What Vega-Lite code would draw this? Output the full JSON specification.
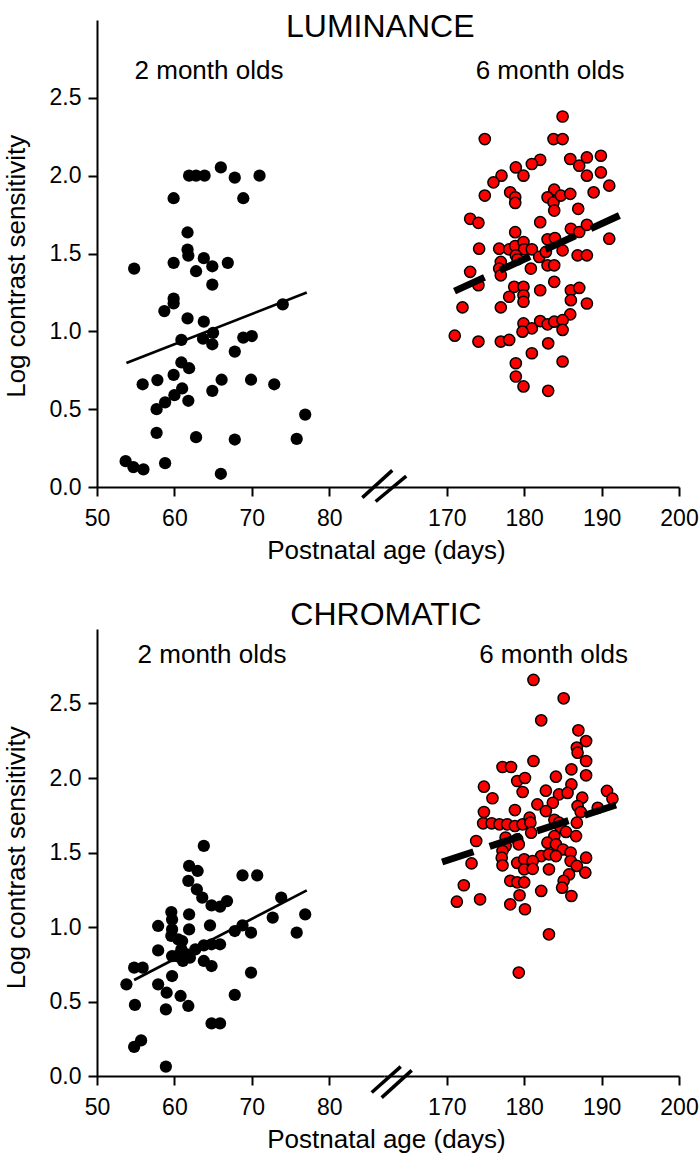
{
  "$schema": "https://vega.github.io/schema/vega-lite/v6.json",
  "background": "white",
  "padding": {"left": 3, "top": 11, "right": 5, "bottom": 5},
  "config": {
    "view": {"stroke": null},
    "font": "Liberation Sans",
    "axis": {"grid": false, "domainColor": "black", "tickColor": "black", "labelColor": "black", "titleColor": "black", "domainWidth": 2, "tickWidth": 2, "tickSize": 9, "labelFontSize": 23, "titleFontSize": 26, "titleFontWeight": "normal", "labelFont": "Liberation Sans", "titleFont": "Liberation Sans", "labelPadding": 7},
    "axisX": {"labelPadding": 11}
  },
  "datasets": {
    "lum2": [
      {"age":66.0,"lcs":2.053},{"age":61.9,"lcs":2.0},{"age":62.8,"lcs":2.0},{"age":63.9,"lcs":2.0},{"age":67.8,"lcs":1.987},{"age":71.0,"lcs":2.0},
      {"age":59.9,"lcs":1.855},{"age":68.9,"lcs":1.855},{"age":61.7,"lcs":1.635},{"age":61.7,"lcs":1.525},{"age":61.8,"lcs":1.486},{"age":59.9,"lcs":1.44},
      {"age":63.8,"lcs":1.47},{"age":62.8,"lcs":1.386},{"age":64.9,"lcs":1.418},{"age":66.9,"lcs":1.44},{"age":64.9,"lcs":1.30},{"age":54.8,"lcs":1.403},
      {"age":59.9,"lcs":1.21},{"age":59.9,"lcs":1.18},{"age":58.7,"lcs":1.13},{"age":61.7,"lcs":1.083},{"age":63.8,"lcs":1.062},{"age":74.0,"lcs":1.173},
      {"age":60.9,"lcs":0.945},{"age":65.0,"lcs":0.99},{"age":63.7,"lcs":0.953},{"age":64.9,"lcs":0.917},{"age":67.8,"lcs":0.87},{"age":68.9,"lcs":0.96},
      {"age":70.0,"lcs":0.97},{"age":60.9,"lcs":0.80},{"age":61.9,"lcs":0.763},{"age":59.9,"lcs":0.72},{"age":55.9,"lcs":0.66},{"age":57.8,"lcs":0.687},
      {"age":66.1,"lcs":0.689},{"age":64.9,"lcs":0.618},{"age":69.9,"lcs":0.689},{"age":72.9,"lcs":0.66},{"age":61.0,"lcs":0.633},{"age":60.0,"lcs":0.59},
      {"age":58.8,"lcs":0.544},{"age":57.7,"lcs":0.50},{"age":61.8,"lcs":0.554},{"age":76.9,"lcs":0.465},{"age":57.7,"lcs":0.348},{"age":62.8,"lcs":0.32},
      {"age":67.8,"lcs":0.305},{"age":75.8,"lcs":0.309},{"age":53.7,"lcs":0.166},{"age":54.7,"lcs":0.128},{"age":56.0,"lcs":0.113},{"age":58.8,"lcs":0.153},
      {"age":66.0,"lcs":0.085}
    ],
    "lum6": [
      {"age":184.96,"lcs":2.38},{"age":174.91,"lcs":2.235},{"age":183.79,"lcs":2.235},{"age":184.96,"lcs":2.235},{"age":182.07,"lcs":2.102},{"age":180.99,"lcs":2.075},
      {"age":178.92,"lcs":2.053},{"age":179.91,"lcs":2.0},{"age":177.07,"lcs":2.0},{"age":176.03,"lcs":1.957},{"age":174.91,"lcs":1.872},{"age":178.19,"lcs":1.893},
      {"age":178.84,"lcs":1.861},{"age":178.84,"lcs":1.825},{"age":185.95,"lcs":2.107},{"age":187.11,"lcs":2.064},{"age":188.1,"lcs":2.117},{"age":189.91,"lcs":2.128},
      {"age":188.1,"lcs":2.0},{"age":189.91,"lcs":2.021},{"age":190.99,"lcs":1.936},{"age":188.97,"lcs":1.893},{"age":183.88,"lcs":1.91},{"age":183.02,"lcs":1.861},
      {"age":183.79,"lcs":1.829},{"age":184.74,"lcs":1.872},{"age":185.95,"lcs":1.883},{"age":183.88,"lcs":1.776},{"age":186.98,"lcs":1.787},{"age":173.02,"lcs":1.723},
      {"age":174.09,"lcs":1.697},{"age":182.07,"lcs":1.701},{"age":190.99,"lcs":1.595},{"age":176.77,"lcs":1.531},{"age":178.06,"lcs":1.526},{"age":178.84,"lcs":1.548},
      {"age":179.91,"lcs":1.574},{"age":180.0,"lcs":1.527},{"age":180.99,"lcs":1.527},{"age":178.92,"lcs":1.488},{"age":179.14,"lcs":1.463},{"age":176.98,"lcs":1.446},
      {"age":176.77,"lcs":1.403},{"age":176.98,"lcs":1.36},{"age":181.94,"lcs":1.478},{"age":182.8,"lcs":1.51},{"age":183.02,"lcs":1.591},{"age":183.97,"lcs":1.599},
      {"age":184.96,"lcs":1.52},{"age":183.02,"lcs":1.424},{"age":183.88,"lcs":1.424},{"age":180.86,"lcs":1.403},{"age":183.88,"lcs":1.318},{"age":178.84,"lcs":1.637},
      {"age":186.03,"lcs":1.659},{"age":187.11,"lcs":1.638},{"age":188.1,"lcs":1.684},{"age":186.9,"lcs":1.488},{"age":188.1,"lcs":1.488},{"age":174.18,"lcs":1.531},
      {"age":173.02,"lcs":1.382},{"age":174.09,"lcs":1.296},{"age":178.71,"lcs":1.286},{"age":179.91,"lcs":1.286},{"age":179.91,"lcs":1.232},{"age":178.06,"lcs":1.222},
      {"age":179.91,"lcs":1.19},{"age":182.07,"lcs":1.264},{"age":176.98,"lcs":1.154},{"age":172.03,"lcs":1.154},{"age":186.03,"lcs":1.264},{"age":187.11,"lcs":1.279},
      {"age":186.03,"lcs":1.2},{"age":188.1,"lcs":1.179},{"age":185.95,"lcs":1.109},{"age":179.91,"lcs":1.051},{"age":180.99,"lcs":1.019},{"age":182.07,"lcs":1.066},
      {"age":183.02,"lcs":1.045},{"age":183.88,"lcs":1.062},{"age":184.96,"lcs":1.072},{"age":184.96,"lcs":1.009},{"age":179.78,"lcs":0.998},{"age":171.03,"lcs":0.972},
      {"age":174.09,"lcs":0.934},{"age":176.98,"lcs":0.934},{"age":178.06,"lcs":0.945},{"age":183.1,"lcs":0.923},{"age":180.99,"lcs":0.859},{"age":178.92,"lcs":0.795},
      {"age":178.92,"lcs":0.71},{"age":184.96,"lcs":0.806},{"age":179.91,"lcs":0.646},{"age":183.1,"lcs":0.618}
    ],
    "chr2": [
      {"age":63.8,"lcs":1.544},{"age":61.9,"lcs":1.41},{"age":63.0,"lcs":1.376},{"age":61.8,"lcs":1.31},{"age":62.9,"lcs":1.253},{"age":63.6,"lcs":1.197},
      {"age":66.8,"lcs":1.174},{"age":65.9,"lcs":1.136},{"age":64.8,"lcs":1.145},{"age":68.8,"lcs":1.347},{"age":70.7,"lcs":1.347},{"age":73.8,"lcs":1.197},
      {"age":76.9,"lcs":1.085},{"age":72.7,"lcs":1.063},{"age":75.8,"lcs":0.962},{"age":59.6,"lcs":1.10},{"age":59.7,"lcs":1.05},{"age":57.9,"lcs":1.007},
      {"age":61.9,"lcs":1.085},{"age":64.6,"lcs":1.011},{"age":59.6,"lcs":0.94},{"age":60.5,"lcs":0.917},{"age":61.9,"lcs":0.984},{"age":67.8,"lcs":0.973},
      {"age":68.8,"lcs":1.011},{"age":69.9,"lcs":0.962},{"age":65.9,"lcs":0.884},{"age":64.8,"lcs":0.884},{"age":63.8,"lcs":0.877},{"age":60.9,"lcs":0.85},
      {"age":61.6,"lcs":0.816},{"age":60.3,"lcs":0.805},{"age":61.1,"lcs":0.772},{"age":62.0,"lcs":0.794},{"age":62.7,"lcs":0.85},{"age":57.9,"lcs":0.843},
      {"age":59.7,"lcs":0.805},{"age":63.8,"lcs":0.772},{"age":64.8,"lcs":0.738},{"age":54.8,"lcs":0.727},{"age":55.9,"lcs":0.727},{"age":59.7,"lcs":0.671},
      {"age":53.8,"lcs":0.615},{"age":57.9,"lcs":0.615},{"age":59.0,"lcs":0.559},{"age":60.8,"lcs":0.537},{"age":61.8,"lcs":0.47},{"age":54.9,"lcs":0.477},
      {"age":58.9,"lcs":0.447},{"age":69.9,"lcs":0.694},{"age":67.8,"lcs":0.544},{"age":64.8,"lcs":0.353},{"age":65.9,"lcs":0.353},{"age":55.7,"lcs":0.239},
      {"age":54.8,"lcs":0.195},{"age":58.9,"lcs":0.063},{"age":59.7,"lcs":0.984},{"age":61.0,"lcs":0.906}
    ],
    "chr6": [
      {"age":181.2,"lcs":2.658},{"age":185.1,"lcs":2.535},{"age":182.2,"lcs":2.387},{"age":187.0,"lcs":2.32},{"age":188.0,"lcs":2.248},{"age":186.8,"lcs":2.204},
      {"age":186.9,"lcs":2.17},{"age":188.0,"lcs":2.114},{"age":181.2,"lcs":2.114},{"age":177.2,"lcs":2.074},{"age":178.3,"lcs":2.074},{"age":186.1,"lcs":2.058},
      {"age":188.0,"lcs":2.018},{"age":179.1,"lcs":1.98},{"age":180.1,"lcs":2.0},{"age":179.8,"lcs":1.906},{"age":184.1,"lcs":2.009},{"age":186.1,"lcs":1.957},
      {"age":174.8,"lcs":1.942},{"age":175.9,"lcs":1.864},{"age":182.8,"lcs":1.915},{"age":184.5,"lcs":1.89},{"age":185.6,"lcs":1.90},{"age":183.7,"lcs":1.834},
      {"age":187.5,"lcs":1.868},{"age":190.7,"lcs":1.913},{"age":191.4,"lcs":1.861},{"age":181.7,"lcs":1.823},{"age":186.9,"lcs":1.812},{"age":189.5,"lcs":1.80},
      {"age":174.8,"lcs":1.772},{"age":178.8,"lcs":1.785},{"age":182.8,"lcs":1.778},{"age":174.7,"lcs":1.696},{"age":175.8,"lcs":1.696},{"age":176.8,"lcs":1.689},
      {"age":177.8,"lcs":1.689},{"age":178.8,"lcs":1.678},{"age":179.8,"lcs":1.689},{"age":180.7,"lcs":1.734},{"age":180.8,"lcs":1.70},{"age":180.9,"lcs":1.633},
      {"age":183.9,"lcs":1.72},{"age":184.5,"lcs":1.70},{"age":184.7,"lcs":1.67},{"age":187.3,"lcs":1.772},{"age":186.8,"lcs":1.70},{"age":185.4,"lcs":1.638},
      {"age":186.7,"lcs":1.61},{"age":173.8,"lcs":1.577},{"age":177.6,"lcs":1.60},{"age":177.6,"lcs":1.544},{"age":177.2,"lcs":1.51},{"age":183.9,"lcs":1.61},
      {"age":183.0,"lcs":1.566},{"age":184.1,"lcs":1.555},{"age":185.0,"lcs":1.52},{"age":179.1,"lcs":1.589},{"age":179.3,"lcs":1.555},{"age":182.2,"lcs":1.476},
      {"age":183.2,"lcs":1.488},{"age":184.1,"lcs":1.476},{"age":186.0,"lcs":1.50},{"age":188.0,"lcs":1.465},{"age":173.2,"lcs":1.427},{"age":177.1,"lcs":1.465},
      {"age":177.2,"lcs":1.414},{"age":179.1,"lcs":1.43},{"age":180.0,"lcs":1.454},{"age":181.1,"lcs":1.443},{"age":180.0,"lcs":1.387},{"age":181.1,"lcs":1.39},
      {"age":183.2,"lcs":1.387},{"age":186.0,"lcs":1.443},{"age":186.8,"lcs":1.41},{"age":187.9,"lcs":1.365},{"age":185.8,"lcs":1.353},{"age":178.2,"lcs":1.31},
      {"age":179.1,"lcs":1.30},{"age":180.0,"lcs":1.30},{"age":185.1,"lcs":1.31},{"age":184.9,"lcs":1.264},{"age":172.2,"lcs":1.28},{"age":182.2,"lcs":1.242},
      {"age":186.1,"lcs":1.208},{"age":179.4,"lcs":1.213},{"age":178.2,"lcs":1.152},{"age":180.1,"lcs":1.119},{"age":171.3,"lcs":1.17},{"age":174.3,"lcs":1.186},
      {"age":183.2,"lcs":0.951},{"age":179.3,"lcs":0.694}
    ],
    "lum2fit": [{"age":53.8,"lcs":0.797},{"age":77.1,"lcs":1.249}],
    "lum6fit": [{"age":171.0,"lcs":1.258},{"age":192.3,"lcs":1.744}],
    "chr2fit": [{"age":54.8,"lcs":0.644},{"age":77.1,"lcs":1.246}],
    "chr6fit": [{"age":169.4,"lcs":1.436},{"age":192.1,"lcs":1.823}],
    "lumtitle": [{"text":"LUMINANCE","age":86.6,"lcs":2.888}],
    "chrtitle": [{"text":"CHROMATIC","age":87.34,"lcs":3.025}],
    "lum2lab": [{"text":"2 month olds","age":64.47,"lcs":2.618}],
    "lum6lab": [{"text":"6 month olds","age":183.35,"lcs":2.618}],
    "chr2lab": [{"text":"2 month olds","age":64.86,"lcs":2.774}],
    "chr6lab": [{"text":"6 month olds","age":183.8,"lcs":2.77}],
    "lumbreak": [{"age":84.28,"lcs":-0.068,"age2":88.15,"lcs2":0.107},{"age":86.0,"lcs":-0.093,"age2":89.95,"lcs2":0.07}],
    "chrbreak": [{"age":85.49,"lcs":-0.111,"age2":89.24,"lcs2":0.063},{"age":86.78,"lcs":-0.145,"age2":90.66,"lcs2":0.038}]
  },
  "bounds": "flush",
  "spacing": 609,
  "vconcat": [
    {
      "bounds": "flush",
      "spacing": 0,
      "hconcat": [
        {
          "width": 287, "height": 467,
          "layer": [
            {
              "data": {"name": "lum2"},
              "mark": {"type": "point", "filled": true, "shape": "circle", "size": 150, "color": "black", "opacity": 1, "strokeWidth": 0},
              "encoding": {
                "x": {"field": "age", "type": "quantitative", "scale": {"domain": [50, 87.08], "nice": false, "zero": false},
                      "axis": {"values": [50, 60, 70, 80], "title": "Postnatal age (days)", "titleX": 289, "titleY": 71, "titleBaseline": "alphabetic", "titleAlign": "center", "labelFlush": false}},
                "y": {"field": "lcs", "type": "quantitative", "scale": {"domain": [0, 3], "nice": false, "zero": false},
                      "axis": {"values": [0, 0.5, 1, 1.5, 2, 2.5], "format": ".1f", "title": "Log contrast sensitivity", "titleY": 245.8, "titlePadding": 20}}
              }
            },
            {
              "data": {"name": "lum2fit"},
              "mark": {"type": "line", "color": "black", "strokeWidth": 2.7},
              "encoding": {"x": {"field": "age", "type": "quantitative"}, "y": {"field": "lcs", "type": "quantitative"}}
            },
            {
              "data": {"name": "lumbreak"},
              "mark": {"type": "rule", "color": "black", "strokeWidth": 3.5},
              "encoding": {"x": {"field": "age", "type": "quantitative"}, "x2": {"field": "age2"}, "y": {"field": "lcs", "type": "quantitative"}, "y2": {"field": "lcs2"}}
            },
            {
              "data": {"name": "lumtitle"},
              "mark": {"type": "text", "fontSize": 32, "align": "center", "baseline": "alphabetic", "color": "black", "font": "Liberation Sans"},
              "encoding": {"x": {"field": "age", "type": "quantitative"}, "y": {"field": "lcs", "type": "quantitative"}, "text": {"field": "text"}}
            },
            {
              "data": {"name": "lum2lab"},
              "mark": {"type": "text", "fontSize": 26, "align": "center", "baseline": "alphabetic", "color": "black", "font": "Liberation Sans"},
              "encoding": {"x": {"field": "age", "type": "quantitative"}, "y": {"field": "lcs", "type": "quantitative"}, "text": {"field": "text"}}
            }
          ]
        },
        {
          "width": 295, "height": 467,
          "layer": [
            {
              "data": {"name": "lum6"},
              "mark": {"type": "point", "filled": true, "shape": "circle", "size": 125, "fill": "#ff0000", "stroke": "black", "strokeWidth": 1.5, "opacity": 1},
              "encoding": {
                "x": {"field": "age", "type": "quantitative", "scale": {"domain": [161.89, 200], "nice": false, "zero": false},
                      "axis": {"values": [170, 180, 190, 200], "title": null, "labelFlush": false}},
                "y": {"field": "lcs", "type": "quantitative", "scale": {"domain": [0, 3], "nice": false, "zero": false}, "axis": null}
              }
            },
            {
              "data": {"name": "lum6fit"},
              "mark": {"type": "line", "color": "black", "strokeWidth": 7, "strokeDash": [33, 17]},
              "encoding": {"x": {"field": "age", "type": "quantitative"}, "y": {"field": "lcs", "type": "quantitative"}}
            },
            {
              "data": {"name": "lum6lab"},
              "mark": {"type": "text", "fontSize": 26, "align": "center", "baseline": "alphabetic", "color": "black", "font": "Liberation Sans"},
              "encoding": {"x": {"field": "age", "type": "quantitative"}, "y": {"field": "lcs", "type": "quantitative"}, "text": {"field": "text"}}
            }
          ]
        }
      ]
    },
    {
      "bounds": "flush",
      "spacing": 0,
      "hconcat": [
        {
          "width": 287, "height": 447,
          "layer": [
            {
              "data": {"name": "chr2"},
              "mark": {"type": "point", "filled": true, "shape": "circle", "size": 150, "color": "black", "opacity": 1, "strokeWidth": 0},
              "encoding": {
                "x": {"field": "age", "type": "quantitative", "scale": {"domain": [50, 87.08], "nice": false, "zero": false},
                      "axis": {"values": [50, 60, 70, 80], "title": "Postnatal age (days)", "titleX": 289, "titleY": 71, "titleBaseline": "alphabetic", "titleAlign": "center", "labelFlush": false}},
                "y": {"field": "lcs", "type": "quantitative", "scale": {"domain": [0, 3], "nice": false, "zero": false},
                      "axis": {"values": [0, 0.5, 1, 1.5, 2, 2.5], "format": ".1f", "title": "Log contrast sensitivity", "titleY": 228.3, "titlePadding": 20}}
              }
            },
            {
              "data": {"name": "chr2fit"},
              "mark": {"type": "line", "color": "black", "strokeWidth": 2.7},
              "encoding": {"x": {"field": "age", "type": "quantitative"}, "y": {"field": "lcs", "type": "quantitative"}}
            },
            {
              "data": {"name": "chrbreak"},
              "mark": {"type": "rule", "color": "black", "strokeWidth": 3.5},
              "encoding": {"x": {"field": "age", "type": "quantitative"}, "x2": {"field": "age2"}, "y": {"field": "lcs", "type": "quantitative"}, "y2": {"field": "lcs2"}}
            },
            {
              "data": {"name": "chrtitle"},
              "mark": {"type": "text", "fontSize": 32, "align": "center", "baseline": "alphabetic", "color": "black", "font": "Liberation Sans"},
              "encoding": {"x": {"field": "age", "type": "quantitative"}, "y": {"field": "lcs", "type": "quantitative"}, "text": {"field": "text"}}
            },
            {
              "data": {"name": "chr2lab"},
              "mark": {"type": "text", "fontSize": 26, "align": "center", "baseline": "alphabetic", "color": "black", "font": "Liberation Sans"},
              "encoding": {"x": {"field": "age", "type": "quantitative"}, "y": {"field": "lcs", "type": "quantitative"}, "text": {"field": "text"}}
            }
          ]
        },
        {
          "width": 295, "height": 447,
          "layer": [
            {
              "data": {"name": "chr6"},
              "mark": {"type": "point", "filled": true, "shape": "circle", "size": 125, "fill": "#ff0000", "stroke": "black", "strokeWidth": 1.5, "opacity": 1},
              "encoding": {
                "x": {"field": "age", "type": "quantitative", "scale": {"domain": [161.89, 200], "nice": false, "zero": false},
                      "axis": {"values": [170, 180, 190, 200], "title": null, "labelFlush": false}},
                "y": {"field": "lcs", "type": "quantitative", "scale": {"domain": [0, 3], "nice": false, "zero": false}, "axis": null}
              }
            },
            {
              "data": {"name": "chr6fit"},
              "mark": {"type": "line", "color": "black", "strokeWidth": 7, "strokeDash": [33, 17]},
              "encoding": {"x": {"field": "age", "type": "quantitative"}, "y": {"field": "lcs", "type": "quantitative"}}
            },
            {
              "data": {"name": "chr6lab"},
              "mark": {"type": "text", "fontSize": 26, "align": "center", "baseline": "alphabetic", "color": "black", "font": "Liberation Sans"},
              "encoding": {"x": {"field": "age", "type": "quantitative"}, "y": {"field": "lcs", "type": "quantitative"}, "text": {"field": "text"}}
            }
          ]
        }
      ]
    }
  ]
}
